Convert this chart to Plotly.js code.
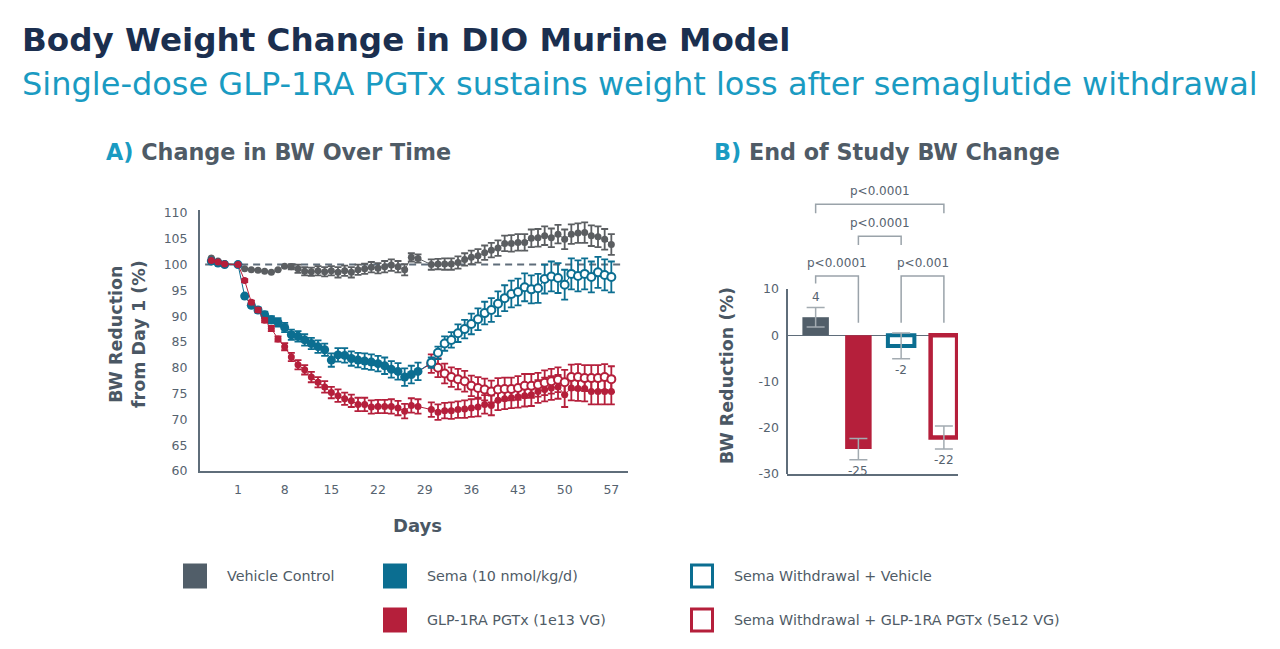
<!DOCTYPE html>
<html><head><meta charset="utf-8">
<script src="https://cdn.plot.ly/plotly-3.0.1.min.js"></script>
<style>html,body{margin:0;padding:0;background:#fff;}#chart{width:1280px;height:649px;}</style>
</head><body><div id="chart"></div>
<script>
// ---------- Panel A data ----------
const DAYS_SEMA = [-3,-2,-1,1,2,3,4,5,6,7,8,9,10,11,12,13,14,15,16,17,18,19,20,21,22,23,24,25,26,27,28];
const DAYS_WITHDRAWAL = [30,31,32,33,34,35,36,37,38,39,40,41,42,43,44,45,46,47,48,49,50,51,52,53,54,55,56,57];
const X_TICKS = [1,8,15,22,29,36,43,50,57];
const Y_TICKS = [60,65,70,75,80,85,90,95,100,105,110];
const BASELINE = 100;

const vehiclePre = [101.3,100.7,100.2,100.0,99.2,99.0,98.9,98.7,98.5,99.0,99.7,99.6,99.2,98.7,98.6,98.8,98.6,98.8,98.5,98.8,98.5,99.0,99.2,99.5,99.3,99.6,99.9,99.6,99.0,101.4,101.2];
const vehiclePreErr = [0,0,0,0,0,0,0,0,0,0,0,0.5,0.8,0.8,0.8,0.9,0.9,0.9,1.0,1.0,1.0,1.0,1.0,1.0,1.0,1.1,1.1,1.1,1.1,0.8,0.8];
const vehiclePost = [100.0,100.1,100.1,100.1,100.4,101.0,101.4,101.7,102.3,102.8,103.2,104.1,104.1,104.3,104.3,105.1,105.2,105.6,105.2,105.9,104.9,105.9,106.1,106.2,105.6,105.4,104.9,103.9];
const vehiclePostErr = [1.0,1.0,1.1,1.1,1.2,1.2,1.3,1.3,1.4,1.4,1.5,1.5,1.6,1.6,1.6,1.7,1.7,1.8,1.8,1.8,1.9,1.9,1.9,2.0,2.0,2.0,2.0,2.0];

const semaPre = [100.7,100.3,100.0,100.0,93.9,92.1,91.2,90.3,89.3,88.8,87.8,86.4,86.1,85.4,84.7,84.1,83.5,81.5,82.5,82.4,81.8,81.5,81.3,81.1,80.8,80.4,79.7,79.3,78.2,78.7,79.3];
const semaPreErr = [0,0,0,0,0.3,0.4,0.5,0.6,0.7,0.8,0.9,1.0,1.0,1.1,1.1,1.2,1.2,1.3,1.3,1.4,1.4,1.4,1.5,1.5,1.5,1.6,1.6,1.6,1.7,1.7,1.7];

const pgtxPre = [100.8,100.5,100.1,100.0,96.9,92.7,91.2,89.2,87.6,85.6,84.1,82.1,80.6,79.6,78.2,77.2,76.3,75.2,74.6,74.0,73.6,72.9,72.9,72.4,72.5,72.5,72.5,72.2,71.6,72.7,72.5];
const pgtxPreErr = [0,0,0,0,0.3,0.3,0.4,0.4,0.5,0.5,0.7,0.8,0.9,0.9,1.0,1.0,1.1,1.1,1.2,1.2,1.2,1.3,1.3,1.3,1.3,1.3,1.4,1.4,1.4,1.4,1.4];
const pgtxPost = [71.9,71.4,71.7,71.7,71.9,72.0,72.2,72.4,72.9,72.7,73.7,74.0,74.2,74.4,74.6,74.8,75.4,75.8,76.1,76.3,74.8,76.1,76.0,76.0,75.4,75.4,75.4,75.4];
const pgtxPostErr = [1.4,1.5,1.5,1.6,1.6,1.7,1.7,1.8,1.8,1.9,1.9,2.0,2.0,2.1,2.1,2.2,2.2,2.3,2.3,2.3,2.4,2.4,2.4,2.5,2.5,2.5,2.5,2.5];

const wdVehicle = [81.0,82.9,84.7,85.4,86.7,87.5,88.5,89.4,90.6,91.2,92.4,93.5,94.3,94.7,95.6,95.2,95.4,97.2,97.7,97.4,96.1,98.2,97.8,98.2,97.6,98.5,98.0,97.6];
const wdVehicleErr = [1.0,1.2,1.4,1.5,1.7,1.8,2.0,2.1,2.2,2.3,2.4,2.5,2.6,2.6,2.7,2.7,2.8,2.8,2.9,2.9,2.9,3.0,3.0,3.0,3.0,3.0,3.0,3.0];
const wdPgtx = [80.8,80.0,78.9,78.2,77.8,77.4,76.5,76.1,75.8,75.4,75.8,75.9,75.9,76.1,76.5,76.5,76.7,77.1,77.4,77.7,77.2,78.2,78.2,78.0,78.0,78.0,78.2,77.8];
const wdPgtxErr = [1.8,1.8,1.9,1.9,2.0,2.0,2.0,2.1,2.1,2.1,2.2,2.2,2.2,2.3,2.3,2.3,2.3,2.4,2.4,2.4,2.4,2.4,2.5,2.5,2.5,2.5,2.5,2.5];

// ---------- Panel B data ----------
const groupsB = ['Vehicle Control','GLP-1RA PGTx (1e13 VG)','Sema Withdrawal + Vehicle','Sema Withdrawal + GLP-1RA PGTx (5e12 VG)'];
const valuesB = [3.9,-24.6,-2.3,-22.1];
const errB = [2.1,2.3,2.8,2.5];
const labelsB = ['4','-25','-2','-22'];
const B_TICKS = [-30,-20,-10,0,10];
const B_TICK_LABELS = ['-30','-20','-10','0','10'];
const sigFrom = [0,2,1,0];
const sigTo = [1,3,2,3];
const sigLevel = [12.8,12.8,21.4,28.3];
const sigLeftEnd = [11.2,2.7,19.5,26.4];
const sigRightEnd = [2.7,2.7,19.5,26.4];
const sigLabels = ['p<0.0001','p<0.001','p<0.0001','p<0.0001'];

// ---------- Legend ----------
const legendNames = ['Vehicle Control','Sema (10 nmol/kg/d)','GLP-1RA PGTx (1e13 VG)','Sema Withdrawal + Vehicle','Sema Withdrawal + GLP-1RA PGTx (5e12 VG)'];

// ---------- styles ----------
const C_GRAY = '#5b5e61', C_GRAY_LEG = '#515e69', C_TEAL = '#0b6e91', C_RED = '#b51f3b';
const C_AXIS = '#5f6d7a', C_TEXT = '#56636f', C_TITLE = '#1b2f4f', C_CYAN = '#1a9bc2';
const FONT = 'DejaVu Sans, Verdana, sans-serif';
const W = 1280, H = 649;
const px = v => v / W, py = v => 1 - v / H;

function eb(arr, color) {
  return {type:'data', array:arr, visible:true, color:color, thickness:1.8, width:3.5};
}

const traces = [];
traces.push({x:DAYS_SEMA.concat(DAYS_WITHDRAWAL), y:vehiclePre.concat(vehiclePost), xaxis:'x', yaxis:'y',
  type:'scatter', mode:'lines+markers', line:{color:C_GRAY, width:1},
  marker:{color:C_GRAY, size:7}, error_y:eb(vehiclePreErr.concat(vehiclePostErr), C_GRAY), hoverinfo:'skip', showlegend:false});
const lastDay = DAYS_SEMA[DAYS_SEMA.length-1], lastSema = semaPre[semaPre.length-1];
traces.push({x:[lastDay, DAYS_WITHDRAWAL[0]], y:[lastSema, wdPgtx[0]], xaxis:'x', yaxis:'y', type:'scatter', mode:'lines',
  line:{color:C_RED, width:1}, hoverinfo:'skip', showlegend:false});
traces.push({x:[lastDay, DAYS_WITHDRAWAL[0]], y:[lastSema, wdVehicle[0]], xaxis:'x', yaxis:'y', type:'scatter', mode:'lines',
  line:{color:C_TEAL, width:1}, hoverinfo:'skip', showlegend:false});
traces.push({x:DAYS_SEMA, y:semaPre, xaxis:'x', yaxis:'y', type:'scatter', mode:'lines+markers',
  line:{color:C_TEAL, width:1}, marker:{color:C_TEAL, size:9}, error_y:eb(semaPreErr, C_TEAL), hoverinfo:'skip', showlegend:false});
traces.push({x:DAYS_SEMA.concat(DAYS_WITHDRAWAL), y:pgtxPre.concat(pgtxPost), xaxis:'x', yaxis:'y', type:'scatter', mode:'lines+markers',
  line:{color:C_RED, width:1}, marker:{color:C_RED, size:7}, error_y:eb(pgtxPreErr.concat(pgtxPostErr), C_RED), hoverinfo:'skip', showlegend:false});
traces.push({x:DAYS_WITHDRAWAL, y:wdPgtx, xaxis:'x', yaxis:'y', type:'scatter', mode:'lines+markers',
  line:{color:C_RED, width:1}, marker:{color:'#ffffff', size:8, line:{color:C_RED, width:2}}, error_y:eb(wdPgtxErr, C_RED), hoverinfo:'skip', showlegend:false});
traces.push({x:DAYS_WITHDRAWAL, y:wdVehicle, xaxis:'x', yaxis:'y', type:'scatter', mode:'lines+markers',
  line:{color:C_TEAL, width:1}, marker:{color:'#ffffff', size:8, line:{color:C_TEAL, width:2}}, error_y:eb(wdVehicleErr, C_TEAL), hoverinfo:'skip', showlegend:false});

traces.push({x:groupsB, y:valuesB, xaxis:'x2', yaxis:'y2', type:'bar', width:0.62,
  marker:{color:['#515e69', C_RED, '#ffffff', '#ffffff'], line:{color:['#515e69', C_RED, C_TEAL, C_RED], width:[0,0,4,4.5]}},
  error_y:{type:'data', array:errB, visible:true, color:'#a3abb1', thickness:1.5, width:9}, hoverinfo:'skip', showlegend:false});
for (let i = 0; i < sigFrom.length; i++) {
  const a = groupsB[sigFrom[i]], b = groupsB[sigTo[i]];
  traces.push({x:[a,a,b,b], y:[sigLeftEnd[i], sigLevel[i], sigLevel[i], sigRightEnd[i]], xaxis:'x2', yaxis:'y2',
    type:'scatter', mode:'lines', line:{color:'#9aa3aa', width:1.5}, hoverinfo:'skip', showlegend:false, cliponaxis:false});
}

const annotations = [];
const shapes = [];
function ann(text, x, y, size, color, opts) {
  annotations.push(Object.assign({text:text, x:x, y:y, xref:'paper', yref:'paper', showarrow:false,
    xanchor:'left', yanchor:'middle', font:{family:FONT, size:size, color:color}}, opts || {}));
}
ann('<b>Body Weight Change in DIO Murine Model</b>', px(20), py(40), 32.6, C_TITLE);
ann('Single-dose GLP-1RA PGTx sustains weight loss after semaglutide withdrawal', px(20), py(84), 32.0, C_CYAN);
ann('<b><span style="color:' + C_CYAN + '">A)</span> Change in BW Over Time</b>', px(104), py(152), 22.3, '#4f5b66');
ann('<b><span style="color:' + C_CYAN + '">B)</span> End of Study BW Change</b>', px(712), py(152), 22.3, '#4f5b66');
ann('<b>BW Reduction<br>from Day 1 (%)</b>', px(127), py(334), 17.5, '#4a5764', {xanchor:'center', textangle:-90});
ann('<b>Days</b>', px(417), py(525), 18, '#4a5764', {xanchor:'center'});
ann('<b>BW Reduction (%)</b>', px(727), py(376), 17.5, '#4a5764', {xanchor:'center', textangle:-90});

for (let i = 0; i < valuesB.length; i++) {
  const s = valuesB[i] >= 0 ? 1 : -1;
  annotations.push({text:labelsB[i], x:groupsB[i], y:valuesB[i] + s*errB[i], xref:'x2', yref:'y2', showarrow:false,
    yanchor:'middle', yshift:s*11, font:{family:FONT, size:12, color:C_TEXT}});
}
for (let i = 0; i < sigFrom.length; i++) {
  annotations.push({text:sigLabels[i], x:(sigFrom[i] + sigTo[i]) / 2, y:sigLevel[i], xref:'x2', yref:'y2', showarrow:false,
    yanchor:'middle', yshift:13.5, font:{family:FONT, size:12, color:C_TEXT}});
}

const legCols = [183, 383, 383, 690, 690];
const legRows = [576, 576, 620, 576, 620];
const legFill = [C_GRAY_LEG, C_TEAL, C_RED, '#ffffff', '#ffffff'];
const legLine = [C_GRAY_LEG, C_TEAL, C_RED, C_TEAL, C_RED];
const legLW = [0, 0, 0, 3, 3];
for (let i = 0; i < legendNames.length; i++) {
  const x0 = legCols[i], yc = legRows[i];
  shapes.push({type:'rect', xref:'paper', yref:'paper', x0:px(x0 + legLW[i]/2), x1:px(x0 + 24 - legLW[i]/2),
    y0:py(yc + 12.5 - legLW[i]/2), y1:py(yc - 12.5 + legLW[i]/2), fillcolor:legFill[i],
    line:{color:legLine[i], width:legLW[i]}});
  ann(legendNames[i], px(x0 + 42), py(yc), 14.3, '#4f5b66');
}

shapes.push({type:'line', xref:'x domain', yref:'y', x0:0.012, x1:0.99, y0:BASELINE, y1:BASELINE,
  line:{color:C_AXIS, width:2, dash:'7px,5px'}, layer:'below'});
shapes.push({type:'line', xref:'x2 domain', yref:'y2', x0:0, x1:0, y0:B_TICKS[0], y1:B_TICKS[B_TICKS.length-1],
  line:{color:C_AXIS, width:2}});

const tickFont = {family:FONT, size:12.5, color:C_TEXT};
const layout = {
  width:W, height:H, margin:{l:0, r:0, t:0, b:0}, paper_bgcolor:'#fff', plot_bgcolor:'rgba(0,0,0,0)',
  showlegend:false,
  xaxis:{domain:[px(200), px(628)], range:[-4.7, 59.5], tickvals:X_TICKS, ticks:'', showgrid:false, zeroline:false,
    showline:true, linecolor:C_AXIS, linewidth:2, tickfont:tickFont, anchor:'y', ticklabelstandoff:6},
  yaxis:{domain:[1 - 471/H, 1 - 209.9/H], range:[60, 110.6], tickvals:Y_TICKS, ticks:'', showgrid:false, zeroline:false,
    showline:true, linecolor:C_AXIS, linewidth:2, tickfont:tickFont, anchor:'x', ticklabelstandoff:8},
  xaxis2:{domain:[px(787), px(958)], range:[-0.67, 3.33], type:'category', showticklabels:false, ticks:'', showgrid:false,
    zeroline:false, showline:true, linecolor:C_AXIS, linewidth:2, anchor:'y2'},
  yaxis2:{domain:[1 - 474/H, 1 - 178/H], range:[-30, 34], tickvals:B_TICKS, ticktext:B_TICK_LABELS, ticks:'', showgrid:false,
    zeroline:true, zerolinecolor:C_AXIS, zerolinewidth:1.5, showline:false, tickfont:tickFont, anchor:'x2', ticklabelstandoff:7},
  annotations:annotations, shapes:shapes
};
Plotly.newPlot('chart', traces, layout, {displayModeBar:false, staticPlot:true});
</script></body></html>
